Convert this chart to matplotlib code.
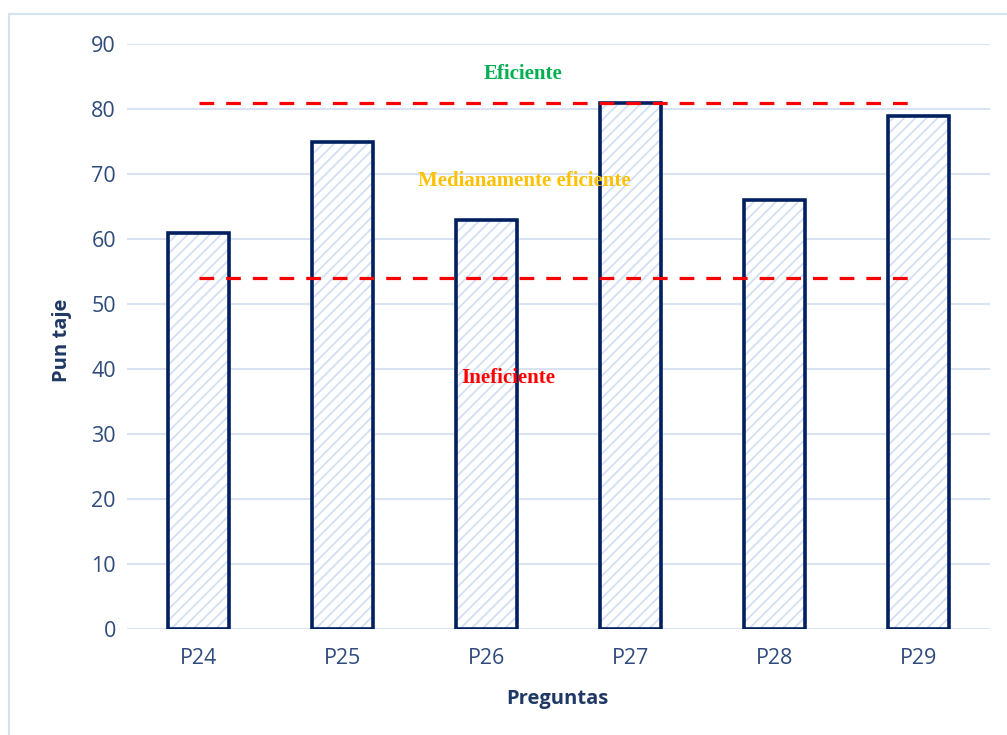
import matplotlib
matplotlib.use("Agg")
import matplotlib.pyplot as plt
from matplotlib.patches import Rectangle

# Data
preguntas = ["P24", "P25", "P26", "P27", "P28", "P29"]
puntaje = [61, 75, 63, 81, 66, 79]
umbral_eficiente = 81
umbral_ineficiente = 54
y_ticks = [0, 10, 20, 30, 40, 50, 60, 70, 80, 90]

W, H, DPI = 1007, 735, 100
fig = plt.figure(figsize=(W / DPI, H / DPI), dpi=DPI)
fig.patch.set_facecolor("white")

# outer chart-area border
fig.add_artist(Rectangle((9 / W, -0.2), 1.2, 1.2 - 14 / H,
                         transform=fig.transFigure, fill=False,
                         edgecolor="#D6E1F2", linewidth=1.5, clip_on=False))

ax = fig.add_axes([127 / W, 1 - 629 / H, (990 - 127) / W, (629 - 44) / H])

tick_color = "#2F4B7C"
label_color = "#1F3864"
navy = "#002060"

plt.rcParams["hatch.linewidth"] = 1.3

x = list(range(len(preguntas)))
width = 0.424

# hatched fill
ax.bar(x, puntaje, width=width, color="white", edgecolor="#D3DFF3",
       linewidth=0, hatch="///", zorder=2)
# outline
ax.bar(x, puntaje, width=width, fill=False, edgecolor=navy,
       linewidth=2.6, zorder=3)

# threshold lines
for y in (umbral_eficiente, umbral_ineficiente):
    ax.plot([0, 4.96], [y, y], color="#FF0000", linewidth=2.3,
            linestyle=(0, (4.6, 3.75)), zorder=4)

serif = ["Liberation Serif", "DejaVu Serif"]
ax.text(2.25, 85.4, "Eficiente", color="#00B050", fontsize=15,
        fontweight="bold", family=serif, ha="center", va="center", zorder=5)
ax.text(2.26, 68.9, "Medianamente eficiente", color="#FFC000", fontsize=15,
        fontweight="bold", family=serif, ha="center", va="center", zorder=5)
ax.text(2.15, 38.6, "Ineficiente", color="#FF0000", fontsize=15,
        fontweight="bold", family=serif, ha="center", va="center", zorder=5)

ax.set_xlim(-0.5, 5.5)
ax.set_ylim(0, 90)
ax.set_yticks(y_ticks)
ax.set_xticks(x)
ax.set_xticklabels(preguntas)

for s in ax.spines.values():
    s.set_visible(False)

ax.grid(axis="y", color="#D9E3F3", linewidth=1.5, zorder=0)
ax.set_axisbelow(True)
ax.tick_params(axis="both", length=0, colors=tick_color, labelsize=15.5)
ax.tick_params(axis="y", pad=8)
ax.tick_params(axis="x", pad=14)
for lab in ax.get_xticklabels() + ax.get_yticklabels():
    lab.set_family("Open Sans")

ax.set_ylabel("Pun taje", fontsize=14.5, fontweight="bold", color=label_color,
              family="Open Sans")
ax.set_xlabel("Preguntas", fontsize=14.5, fontweight="bold", color=label_color,
              family="Open Sans")
ax.yaxis.set_label_coords(-0.064, 0.494)
ax.xaxis.set_label_coords(0.499, -0.103)

fig.savefig("out.png", dpi=DPI)
